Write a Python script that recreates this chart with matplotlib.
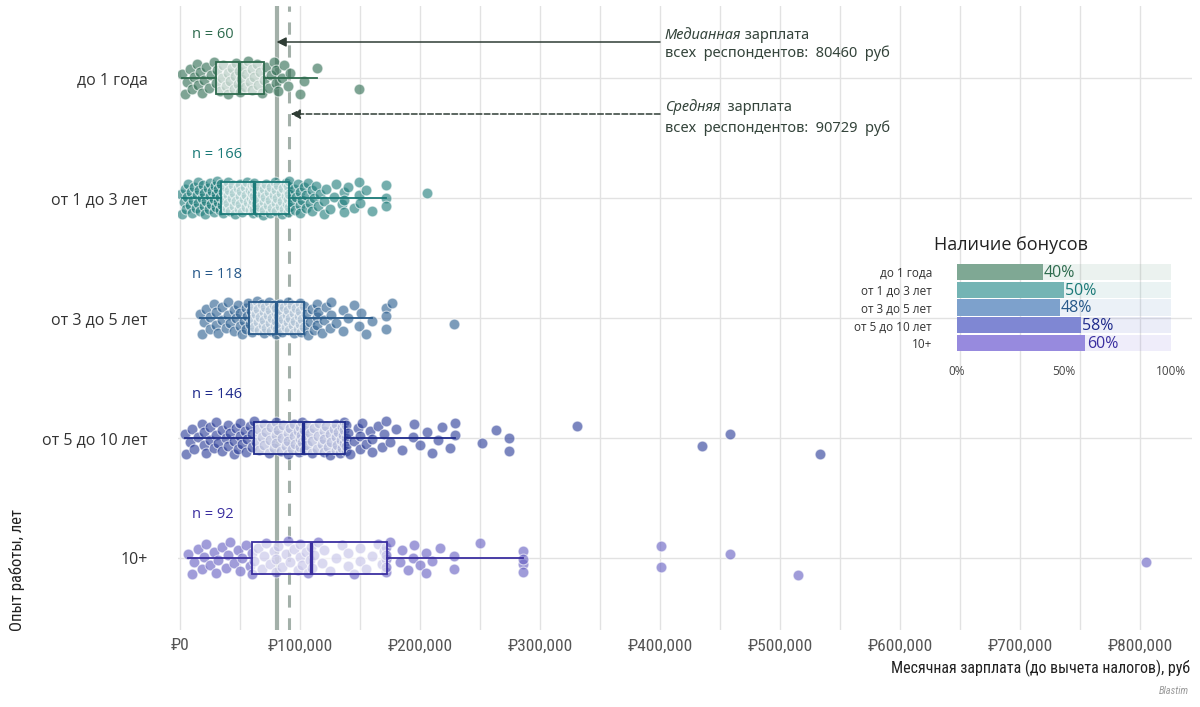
import matplotlib
matplotlib.use("Agg")
import matplotlib.pyplot as plt
from matplotlib import font_manager as fm
import numpy as np

# ---------------- data ----------------
categories = ["до 1 года", "от 1 до 3 лет", "от 3 до 5 лет", "от 5 до 10 лет", "10+"]
counts = [60, 166, 118, 146, 92]

# monthly salary, thousands of rubles
sal_g1 = [2, 4, 6, 8, 10, 12, 14, 15, 17, 18, 20, 22, 24, 26, 28,
          30, 31, 33, 35, 36, 38, 40, 40, 42, 43, 45, 46, 47, 48, 49,
          50, 51, 52, 54, 55, 57, 58, 60, 60, 62, 64, 65, 67, 68, 70,
          72, 74, 76, 78, 80, 80, 82, 85, 87, 90, 92, 100, 103, 114, 149]
sal_g2 = [1, 2, 3, 4, 5, 6, 7, 8, 9, 10, 11, 12, 13, 14, 15, 15, 16, 17, 18, 19, 20, 20,
          21, 22, 23, 24, 25, 25, 26, 27, 28, 28, 29, 30, 30, 31, 32, 32, 33, 33, 34,
          35, 36, 36, 37, 38, 39, 40, 40, 40, 41, 42, 43, 44, 45, 45, 46, 47, 48, 49,
          50, 50, 50, 51, 52, 53, 54, 55, 55, 56, 57, 58, 58, 59, 60, 60, 60, 61, 61,
          62, 62, 62, 62,
          63, 64, 65, 65, 66, 67, 68, 69, 70, 70, 70, 71, 72, 73, 74, 75, 75, 76, 77,
          78, 79, 80, 80, 80, 81, 82, 83, 84, 85, 85, 86, 87, 88, 88, 89, 90, 90, 90,
          90, 91, 91, 91,
          93, 95, 96, 97, 98, 100, 100, 100, 102, 103, 105, 105, 107, 108, 110, 110,
          112, 113, 115, 117, 120, 120, 122, 125, 128, 130, 135, 137, 137, 137, 140,
          145, 149, 149, 150, 155, 160, 172, 172, 172, 206]
sal_g3 = [17, 18, 20, 22, 25, 25, 28, 30, 30, 32, 35, 35, 38, 40, 40, 42, 45, 45, 47, 48,
          50, 50, 52, 53, 55, 55, 56, 57, 58,
          59, 60, 60, 61, 62, 63, 64, 65, 65, 66, 67, 68, 69, 70, 70, 70, 71, 72, 73, 74,
          75, 75, 76, 77, 78, 79, 80, 80, 80, 80,
          81, 82, 83, 84, 85, 85, 86, 87, 88, 89, 90, 90, 90, 91, 92, 93, 94, 95, 95, 96,
          97, 98, 99, 100, 100, 100, 101, 102, 103, 103,
          105, 107, 108, 110, 112, 114, 114, 114, 115, 118, 120, 122, 125, 126, 126, 130,
          136, 136, 140, 145, 149, 151, 155, 160, 172, 172, 172, 177, 228]
sal_g4 = [4, 5, 8, 10, 12, 15, 18, 20, 20, 22, 25, 25, 28, 30, 30, 32, 35, 35, 38, 40, 40,
          42, 45, 45, 47, 48, 50, 50, 52, 54, 55, 56, 58, 60, 60, 62,
          63, 65, 66, 68, 70, 70, 72, 74, 75, 76, 78, 80, 80, 80, 82, 84, 85, 86, 88, 90,
          90, 90, 92, 93, 95, 95, 96, 98, 99, 100, 100, 100, 101, 102, 102, 103, 103,
          104, 105, 106, 108, 110, 110, 112, 114, 115, 116, 118, 120, 120, 120, 122, 123,
          125, 125, 126, 128, 130, 130, 130, 131, 132, 133, 134, 135, 135, 136, 137, 137,
          137, 138, 138, 138, 138,
          140, 142, 145, 148, 150, 150, 152, 155, 158, 160, 160, 165, 168, 170, 172, 175,
          180, 185, 194, 195, 200, 206, 210, 215, 218, 225, 229, 229, 252, 263, 274, 274,
          331, 435, 458, 533]
sal_g5 = [7, 10, 12, 15, 18, 20, 22, 25, 28, 30, 32, 35, 38, 40, 42, 45, 48, 50, 52, 55,
          58, 60, 60,
          62, 65, 68, 70, 72, 75, 78, 80, 80, 82, 85, 88, 90, 92, 95, 98, 100, 100, 102,
          105, 107, 108, 109,
          110, 112, 115, 118, 120, 125, 130, 135, 140, 140, 145, 150, 150, 155, 160, 165,
          168, 170, 172, 172, 172, 172, 172,
          175, 183, 185, 190, 194, 195, 200, 205, 205, 210, 217, 228, 228, 250, 286, 286,
          286, 286, 401, 401, 458, 515, 805]
salaries = [sal_g1, sal_g2, sal_g3, sal_g4, sal_g5]

# box statistics (thousands of rubles)
box_whislo = [1.4, 1.4, 16.7, 4.2, 6.9]
box_q1 = [29.7, 33.9, 57.8, 61.9, 59.7]
box_med = [49.4, 61.7, 80.0, 102.8, 108.9]
box_q3 = [70.3, 91.1, 103.3, 137.5, 172.2]
box_whishi = [113.9, 171.7, 160.0, 229.0, 286.0]

median_all = 80460
mean_all = 90729

bonus_share = [0.40, 0.50, 0.48, 0.58, 0.60]
bonus_labels = ["40%", "50%", "48%", "58%", "60%"]

# ---------------- fonts ----------------
def _w(f):
    try:
        return int(f.weight)
    except Exception:
        return 400 if f.weight in ("normal", "regular", "book") else 0


def pick_condensed():
    prefs = ["Roboto Condensed", "Fira Sans Condensed", "Open Sans Condensed",
             "Noto Sans Condensed", "Liberation Sans Narrow", "Noto Sans",
             "Open Sans", "DejaVu Sans"]
    found = {}
    for f in fm.fontManager.ttflist:
        st = str(f.stretch)
        is_cond = ("ondensed" in f.name or "Narrow" in f.name or
                   st in ("condensed", "semi-condensed", "extra-condensed") or
                   st in ("300", "400", "500"))
        if not is_cond or _w(f) != 400:
            continue
        found.setdefault((f.name, f.style), (f.fname, st))
    for p in prefs:
        if (p, "normal") in found:
            reg = found[(p, "normal")][0]
            ita = None
            for sty in ("italic", "oblique"):
                if (p, sty) in found and found[(p, sty)][1] == found[(p, "normal")][1]:
                    ita = found[(p, sty)][0]
                    break
            return reg, ita
    return None, None


cond_path, cond_italic = pick_condensed()


def cfont(size, style="normal"):
    if cond_path:
        if style == "italic" and cond_italic:
            return fm.FontProperties(fname=cond_italic, size=size)
        return fm.FontProperties(fname=cond_path, size=size)
    return fm.FontProperties(family=["Roboto", "DejaVu Sans"], size=size * 0.9, style=style)


# ---------------- style ----------------
dark_cols = ["#2e6b4e", "#1b7a78", "#27598a", "#1f2b8c", "#3b2fa0"]
point_cols = ["#2f6d52", "#1f7d7b", "#2c5f90", "#2a3c98", "#6660c2"]
bar_cols = ["#7fa894", "#74b4b4", "#7da1cc", "#7f87d3", "#978ade"]
grid_col = "#e2e2e2"
sans = ["Open Sans", "DejaVu Sans"]

W, H = 1200, 707
fig = plt.figure(figsize=(W / 100, H / 100), dpi=100)
ax = fig.add_axes([178 / W, 1 - 630 / H, (1192 - 178) / W, (630 - 6) / H])
ax.set_xlim(-1667, 843333)
ax.set_ylim(5.6, 0.4)
for s in ax.spines.values():
    s.set_visible(False)

ax.set_xticks(np.arange(0, 800001, 100000))
ax.set_xticks(np.arange(50000, 850000, 100000), minor=True)
ax.set_xticklabels(["₽{:,}".format(v) for v in range(0, 800001, 100000)],
                   fontproperties=cfont(12.5), color="#555555")
ax.set_yticks(range(1, 6))
ax.set_yticklabels(categories, family=sans, fontsize=11.5, color="#333333")
ax.tick_params(which="both", length=0)
ax.tick_params(axis="x", pad=6)
ax.tick_params(axis="y", pad=22)
ax.grid(which="both", axis="x", color=grid_col, lw=1, zorder=0)
ax.grid(which="major", axis="y", color=grid_col, lw=1, zorder=0)
ax.set_axisbelow(True)

# reference lines
ax.axvline(median_all, color="#a3b0a9", lw=3, zorder=1)
ax.axvline(mean_all, color="#a3b0a9", lw=2.2, ls=(0, (4, 3.5)), zorder=1)

# jittered points
jit = 0.14
for i, vals in enumerate(salaries):
    v = np.array(vals, dtype=float) * 1000
    k = np.arange(len(v))
    off = ((k * 0.6180339887 + 0.37) % 1 - 0.5) * 2 * jit
    ax.scatter(v, np.full(len(v), i + 1) + off, s=60, color=point_cols[i], alpha=0.62,
               edgecolors="white", linewidths=0.8, zorder=2)

# boxes
for i in range(5):
    st = dict(whislo=box_whislo[i] * 1000, q1=box_q1[i] * 1000, med=box_med[i] * 1000,
              q3=box_q3[i] * 1000, whishi=box_whishi[i] * 1000, fliers=[])
    c = dark_cols[i]
    ax.bxp([st], positions=[i + 1], vert=False, widths=0.27, showcaps=False, patch_artist=True,
           boxprops=dict(facecolor=(1, 1, 1, 0.62), edgecolor=c, lw=1.3),
           whiskerprops=dict(color=c, lw=1.3), medianprops=dict(color=c, lw=2.4),
           manage_ticks=False, zorder=3)
    ax.text(10000, i + 1 - 0.36, "n = {}".format(counts[i]), color=c, fontsize=10.5,
            family=sans, ha="left", va="center", zorder=4)

# annotations
txt_col = "#34443b"
ann_font = ["Noto Sans", "DejaVu Sans"]
ax.annotate("", xy=(median_all, 0.70), xytext=(400000, 0.70),
            arrowprops=dict(arrowstyle="-|>", color="#2f3d35", lw=1.1, mutation_scale=14,
                            shrinkA=0, shrinkB=0), zorder=5)
ax.annotate("", xy=(mean_all + 1500, 1.30), xytext=(400000, 1.30),
            arrowprops=dict(arrowstyle="-|>", color="#2f3d35", lw=1.1, ls="--", mutation_scale=14,
                            shrinkA=0, shrinkB=0), zorder=5)


def mixed(x, y, parts):
    prev = None
    for s, style in parts:
        if prev is None:
            prev = ax.text(x, y, s, style=style, color=txt_col, fontsize=10.5, family=ann_font,
                           ha="left", va="center", zorder=5)
        else:
            prev = ax.annotate(s, xy=(1, 0), xycoords=prev, ha="left", va="bottom", style=style,
                               color=txt_col, fontsize=10.5, family=ann_font, zorder=5)


tx = 404000
mixed(tx, 0.645, [("Медианная", "italic"), (" зарплата", "normal")])
mixed(tx, 0.795, [("всех  респондентов:  {}  руб".format(median_all), "normal")])
mixed(tx, 1.245, [("Средняя", "italic"), ("  зарплата", "normal")])
mixed(tx, 1.42, [("всех  респондентов:  {}  руб".format(mean_all), "normal")])

# axis titles
fig.text(1190 / W, 1 - 668 / H, "Месячная зарплата (до вычета налогов), руб",
         fontproperties=cfont(11.5), color="#222222", ha="right", va="center")
fig.text(17 / W, 1 - 631 / H, "Опыт работы, лет", fontproperties=cfont(12), color="#222222",
         rotation=90, ha="center", va="bottom")
fig.text(1189 / W, 1 - 691 / H, "Blastim", fontproperties=cfont(7.5, "italic"), color="#9a9a9a",
         ha="right", va="center")

# inset: bonuses
iax = fig.add_axes([957 / W, 1 - 354 / H, 214 / W, 93 / H])
iax.set_facecolor("none")
iax.set_xlim(0, 1)
iax.set_ylim(4.6, -0.6)
for s in iax.spines.values():
    s.set_visible(False)
ypos = np.arange(5)
iax.barh(ypos, [1] * 5, height=0.9, color=bar_cols, alpha=0.15, lw=0)
iax.barh(ypos, bonus_share, height=0.9, color=bar_cols, lw=0)
for i in range(5):
    iax.text(bonus_share[i] + 0.006, i + 0.05, bonus_labels[i], color=dark_cols[i], fontsize=11.5,
             family=sans, ha="left", va="center")
iax.set_yticks(ypos)
iax.set_yticklabels(categories, fontsize=8.5, color="#333333", family=sans)
iax.set_xticks([0, 0.5, 1])
iax.set_xticklabels(["0%", "50%", "100%"], fontsize=8.5, color="#444444", family=sans)
iax.tick_params(length=0)
iax.tick_params(axis="y", pad=18)
iax.tick_params(axis="x", pad=8)
fig.text(1011 / W, 1 - 245 / H, "Наличие бонусов", fontsize=13, color="#222222",
         family=sans, ha="center", va="center")

fig.savefig("out.png", dpi=100)
